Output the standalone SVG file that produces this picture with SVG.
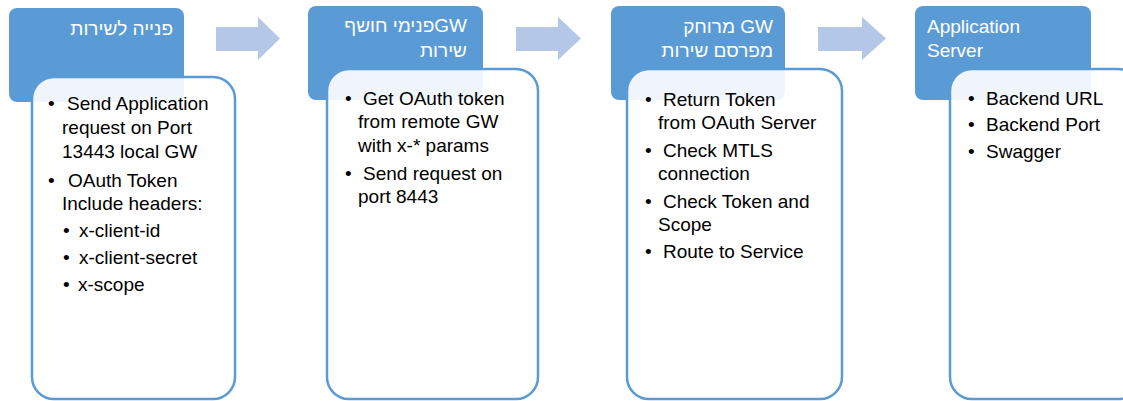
<svg xmlns="http://www.w3.org/2000/svg" width="1123" height="401" viewBox="0 0 1123 401">
<style>
.hdr{fill:#5B9BD5}
.body{fill:#FFFFFF;fill-opacity:0.9;stroke:#5B9BD5;stroke-width:2.5}
.arr{fill:#B4C7E7}
.ht{font-family:"Liberation Sans",Arial,sans-serif;font-size:19px;fill:#FFFFFF}
.bt{font-family:"Liberation Sans",Arial,sans-serif;font-size:19px;fill:#000000}
</style>
<rect width="1123" height="401" fill="#FFFFFF"/>
<g id="connectors">
<path class="arr" d="M216,27 H258 V17 L280,38.5 L258,60 V51 H216 Z"/>
<path class="arr" d="M516,27 H558 V17 L581,38.5 L558,60 V51 H516 Z"/>
<path class="arr" d="M818,27 H862 V17 L886,38.5 L862,60 V51 H818 Z"/>
</g>
<g id="node1">
<rect class="hdr" x="9" y="8" width="175" height="94" rx="8"/>
<rect class="body" x="32" y="77" width="203" height="322" rx="22"/>
<text class="ht" x="173" y="35" direction="rtl" text-anchor="start">פנייה לשירות</text>
<g class="bt">
<text x="48" y="110">•</text><text x="67" y="110">Send Application</text>
<text x="62" y="134">request on Port</text>
<text x="62" y="158">13443 local GW</text>
<text x="48" y="187">•</text><text x="68" y="187">OAuth Token</text>
<text x="62" y="210">Include headers:</text>
<text x="63" y="237">•</text><text x="79" y="237">x-client-id</text>
<text x="63" y="264">•</text><text x="79" y="264">x-client-secret</text>
<text x="63" y="291">•</text><text x="78" y="291">x-scope</text>
</g>
</g>
<g id="node2">
<rect class="hdr" x="308" y="6" width="175" height="94" rx="8"/>
<rect class="body" x="327" y="69" width="211" height="330" rx="22"/>
<text class="ht" x="467" y="32" direction="rtl" text-anchor="start">GWפנימי חושף</text>
<text class="ht" x="467" y="57" direction="rtl" text-anchor="start">שירות</text>
<g class="bt">
<text x="345" y="105">•</text><text x="363" y="105">Get OAuth token</text>
<text x="358" y="128">from remote GW</text>
<text x="358" y="152">with x-* params</text>
<text x="345" y="180">•</text><text x="363" y="180">Send request on</text>
<text x="358" y="203">port 8443</text>
</g>
</g>
<g id="node3">
<rect class="hdr" x="611" y="6" width="174" height="94" rx="8"/>
<rect class="body" x="627" y="69" width="215" height="330" rx="22"/>
<text class="ht" x="773" y="33" direction="rtl" text-anchor="start">GW מרוחק</text>
<text class="ht" x="773" y="57" direction="rtl" text-anchor="start">מפרסם שירות</text>
<g class="bt">
<text x="645" y="106">•</text><text x="663" y="106">Return Token</text>
<text x="658" y="129">from OAuth Server</text>
<text x="645" y="157">•</text><text x="663" y="157">Check MTLS</text>
<text x="658" y="180">connection</text>
<text x="645" y="208">•</text><text x="663" y="208">Check Token and</text>
<text x="658" y="231">Scope</text>
<text x="645" y="258">•</text><text x="663" y="258">Route to Service</text>
</g>
</g>
<g id="node4">
<rect class="hdr" x="915" y="6" width="176" height="94" rx="8"/>
<rect class="body" x="950" y="69" width="190" height="330" rx="22"/>
<text class="ht" x="927" y="33">Application</text>
<text class="ht" x="927" y="57">Server</text>
<g class="bt">
<text x="968" y="105">•</text><text x="986" y="105">Backend URL</text>
<text x="968" y="131">•</text><text x="986" y="131">Backend Port</text>
<text x="968" y="158">•</text><text x="986" y="158">Swagger</text>
</g>
</g>
</svg>
